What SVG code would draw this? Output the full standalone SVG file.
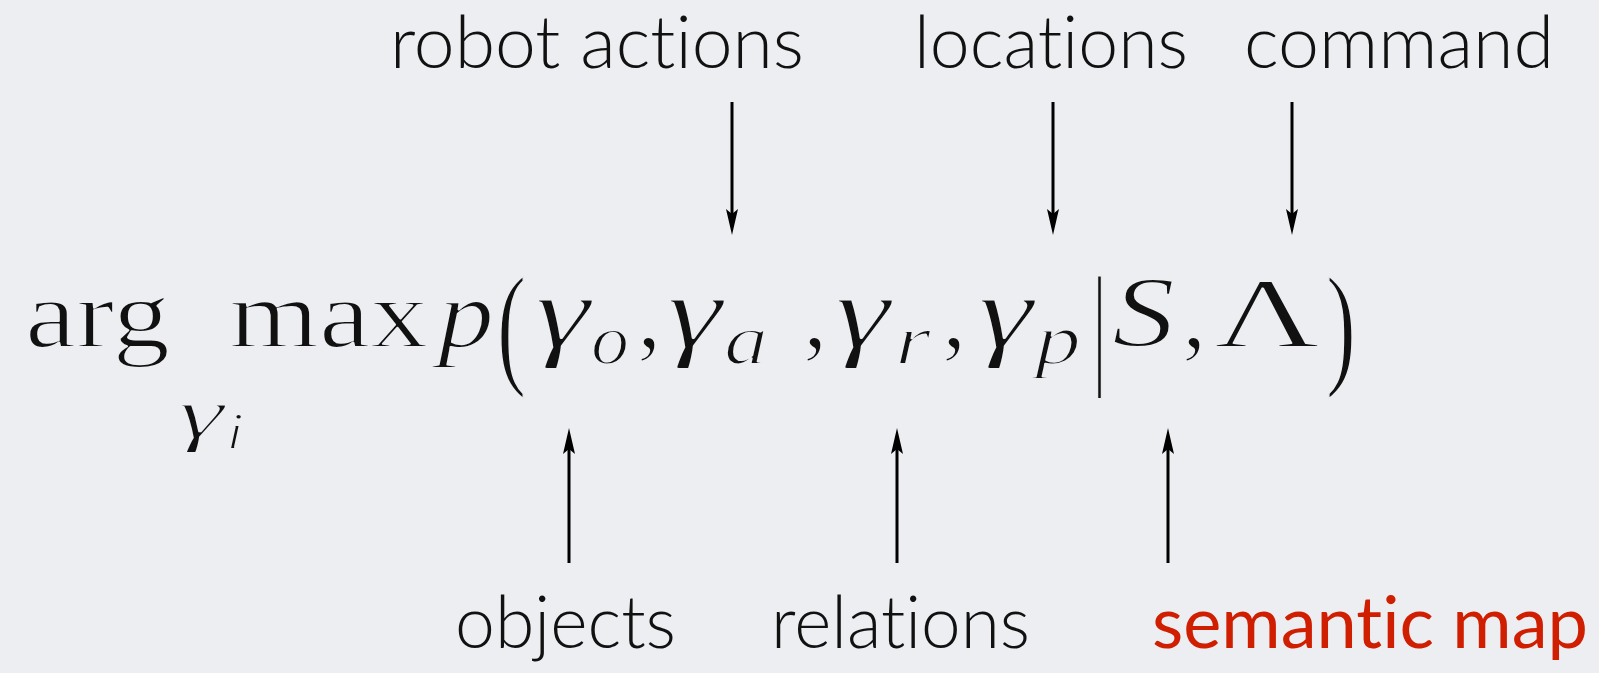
<svg xmlns="http://www.w3.org/2000/svg" width="1599" height="673" viewBox="0 0 1599 673">
<defs>
<marker id="ah" viewBox="0 0 26 12" refX="14" refY="6" markerWidth="26" markerHeight="12" markerUnits="userSpaceOnUse" orient="auto">
<path d="M0,0 L26,6 L0,12 L5,6 Z" fill="#000"/>
</marker>
</defs>
<style>
.lbl{font-family:Lato,sans-serif;font-size:72px;fill:#111;font-weight:300;font-variant-ligatures:none;font-feature-settings:"liga" 0}
.red{fill:#d01e00;font-weight:400}
.arr{stroke:#000;stroke-width:3;fill:none}
.fm{font-family:"Liberation Serif",serif;font-size:98px;fill:#111;stroke:#eceef1;stroke-width:2;stroke-linejoin:round}
.it{font-style:italic}
</style>
<rect width="1599" height="673" fill="#eceef1"/>
<g id="formula" class="fm">
<text x="25" y="347" textLength="145" lengthAdjust="spacingAndGlyphs">arg</text>
<text x="229" y="347" textLength="199" lengthAdjust="spacingAndGlyphs">max</text>
<text class="it" x="438" y="347" textLength="56" lengthAdjust="spacingAndGlyphs">p</text>
<text x="497" y="370" font-size="135" textLength="29" lengthAdjust="spacingAndGlyphs">(</text>
<text class="it" x="535" y="347" font-size="104" textLength="55" lengthAdjust="spacingAndGlyphs">γ</text>
<text class="it" x="591" y="364" font-size="72" textLength="38" lengthAdjust="spacingAndGlyphs">o</text>
<text x="637" y="347">,</text>
<text class="it" x="667" y="347" font-size="104" textLength="55" lengthAdjust="spacingAndGlyphs">γ</text>
<text class="it" x="724" y="364" font-size="72" textLength="44" lengthAdjust="spacingAndGlyphs">a</text>
<text x="803" y="347">,</text>
<text class="it" x="835" y="347" font-size="104" textLength="55" lengthAdjust="spacingAndGlyphs">γ</text>
<text class="it" x="895" y="364" font-size="72" textLength="36" lengthAdjust="spacingAndGlyphs">r</text>
<text x="942" y="347">,</text>
<text class="it" x="978" y="347" font-size="104" textLength="55" lengthAdjust="spacingAndGlyphs">γ</text>
<text class="it" x="1035" y="364" font-size="72" textLength="46" lengthAdjust="spacingAndGlyphs">p</text>
<text x="1092" y="370" font-size="135" textLength="15" lengthAdjust="spacingAndGlyphs">|</text>
<text class="it" x="1112" y="347" font-size="102" textLength="63" lengthAdjust="spacingAndGlyphs">S</text>
<text x="1182" y="347">,</text>
<text x="1214" y="347" font-size="100" textLength="106" lengthAdjust="spacingAndGlyphs">Λ</text>
<text x="1326" y="370" font-size="135" textLength="30" lengthAdjust="spacingAndGlyphs">)</text>
<text class="it" x="178" y="438" font-size="72" textLength="46" lengthAdjust="spacingAndGlyphs">γ</text>
<text class="it" x="226" y="449" font-size="52" textLength="18" lengthAdjust="spacingAndGlyphs">i</text>
</g>
<g id="label-robot-actions"><text class="lbl" x="390" y="68" textLength="414" lengthAdjust="spacingAndGlyphs">robot actions</text></g>
<g id="label-locations"><text class="lbl" x="914" y="68" textLength="274" lengthAdjust="spacingAndGlyphs">locations</text></g>
<g id="label-command"><text class="lbl" x="1244" y="68" textLength="310" lengthAdjust="spacingAndGlyphs">command</text></g>
<g id="label-objects"><text class="lbl" x="455" y="648" textLength="221" lengthAdjust="spacingAndGlyphs">objects</text></g>
<g id="label-relations"><text class="lbl" x="771" y="648" textLength="259" lengthAdjust="spacingAndGlyphs">relations</text></g>
<g id="label-semantic-map"><text class="lbl red" x="1152" y="648" textLength="436" lengthAdjust="spacingAndGlyphs">semantic map</text></g>
<g id="connectors">
<line class="arr" x1="732" y1="102" x2="732" y2="223" marker-end="url(#ah)"/>
<line class="arr" x1="1053" y1="102" x2="1053" y2="223" marker-end="url(#ah)"/>
<line class="arr" x1="1292" y1="102" x2="1292" y2="223" marker-end="url(#ah)"/>
<line class="arr" x1="569" y1="563" x2="569" y2="440" marker-end="url(#ah)"/>
<line class="arr" x1="897" y1="563" x2="897" y2="440" marker-end="url(#ah)"/>
<line class="arr" x1="1168" y1="563" x2="1168" y2="440" marker-end="url(#ah)"/>
</g>
</svg>
